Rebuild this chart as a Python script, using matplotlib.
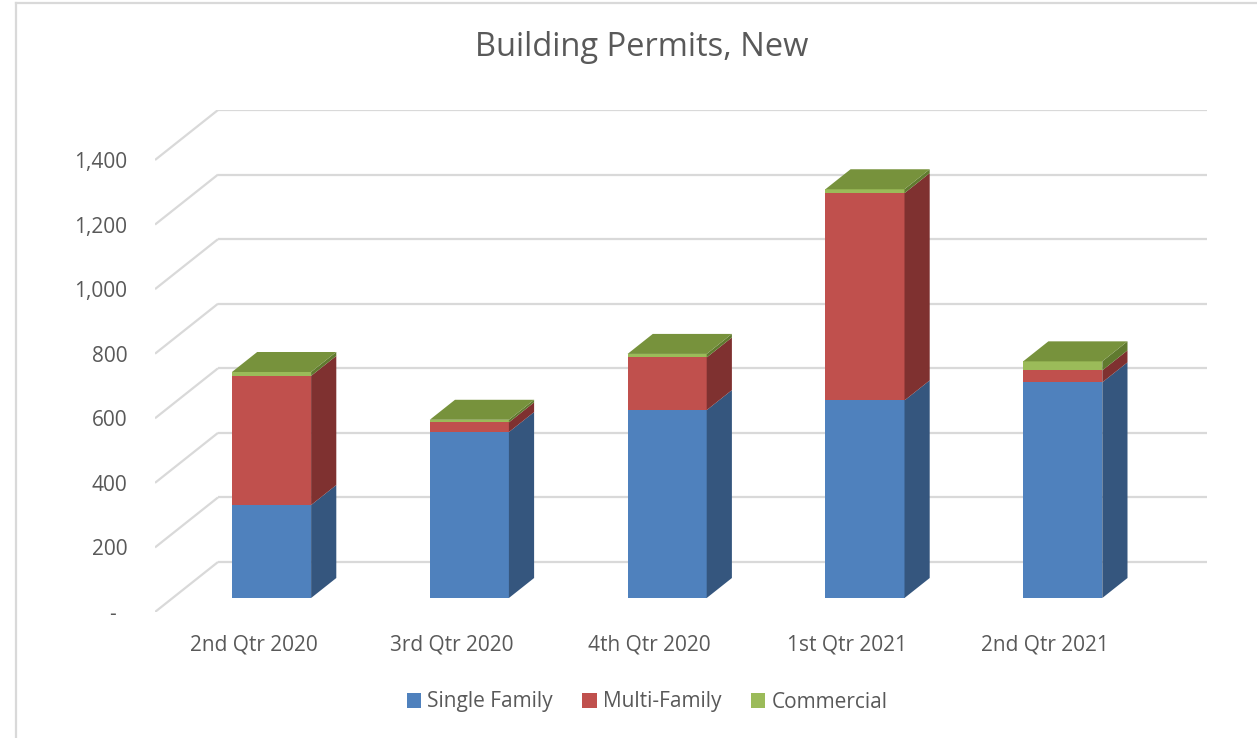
import matplotlib
matplotlib.use("Agg")
import matplotlib.pyplot as plt
from matplotlib.patches import Polygon
from matplotlib.lines import Line2D
import numpy as np

# ---- data ----
categories = ["2nd Qtr 2020", "3rd Qtr 2020", "4th Qtr 2020", "1st Qtr 2021", "2nd Qtr 2021"]
single_family = [288, 514, 582, 612, 668]
multi_family = [400, 30, 163, 642, 37]
commercial = [12, 8, 11, 12, 28]
y_ticks = [0, 200, 400, 600, 800, 1000, 1200, 1400]
y_tick_labels = ["-  ", "200", "400", "600", "800", "1,000", "1,200", "1,400"]
series_names = ["Single Family", "Multi-Family", "Commercial"]

# ---- style ----
plt.rcParams['font.family'] = ['Open Sans', 'DejaVu Sans']
TXT = "#595959"
GRID = "#d9d9d9"
front_cols = ["#4f81bd", "#c0504d", "#9bbb59"]
side_cols = ["#35567e", "#7f3130", "#607a2f"]
top_col = "#77923c"

W, H = 1257, 738
fig = plt.figure(figsize=(W / 100, H / 100), dpi=100)

# geometry of the pseudo-3D box (pixels)
FL, FR = 155, 1144      # front plane left / right
FB, FT = 612, 160       # front plane value 0 / value 1400
DXP, DYP = 63, 50       # depth offset of back wall
ymax = y_ticks[-1]
ncat = len(categories)
ppx = (FR - FL) / ncat
ppy = (FB - FT) / ymax
DX = DXP / ppx
DY = DYP / ppy

ax = fig.add_axes([FL / W, (H - FB) / H, (FR + DXP - FL) / W, (FB - (FT - DYP)) / H])
ax.set_xlim(-0.5, ncat - 0.5 + DX)
ax.set_ylim(0, ymax + DY)
for s in ax.spines.values():
    s.set_visible(False)
ax.set_facecolor("none")

# gridlines: back wall + side wall
for v in y_ticks:
    ax.plot([-0.5 + DX, ncat - 0.5 + DX], [v + DY, v + DY], color=GRID, lw=1.6, zorder=1,
            solid_capstyle='butt')
    ax.plot([-0.5, -0.5 + DX], [v, v + DY], color=GRID, lw=1.6, zorder=1,
            solid_capstyle='butt')

# bars
f0, f1 = 0.28, 0.68
bx0, by0 = f0 * DX, f0 * DY
ddx, ddy = (f1 - f0) * DX, (f1 - f0) * DY
bw = 0.40
x = np.arange(ncat)
series = [single_family, multi_family, commercial]
bottoms = np.zeros(ncat) + by0
handles = []
for k, vals in enumerate(series):
    vals = np.array(vals, dtype=float)
    h = ax.bar(x + bx0, vals, width=bw, bottom=bottoms, color=front_cols[k],
               label=series_names[k], zorder=3, linewidth=0)
    handles.append(h)
    for i in range(ncat):
        xr = x[i] + bx0 + bw / 2
        b, t = bottoms[i], bottoms[i] + vals[i]
        ax.add_patch(Polygon([(xr, b), (xr, t), (xr + ddx, t + ddy), (xr + ddx, b + ddy)],
                             closed=True, facecolor=side_cols[k], edgecolor='none', zorder=3))
    bottoms = bottoms + vals

for i in range(ncat):
    xl = x[i] + bx0 - bw / 2
    xr = x[i] + bx0 + bw / 2
    t = bottoms[i]
    ax.add_patch(Polygon([(xl, t), (xr, t), (xr + ddx, t + ddy), (xl + ddx, t + ddy)],
                         closed=True, facecolor=top_col, edgecolor='none', zorder=4))

ax.set_yticks(y_ticks, y_tick_labels)
ax.set_xticks(x, categories)
ax.tick_params(axis='y', length=0, pad=20, labelsize=15, labelcolor=TXT)
ax.tick_params(axis='x', length=0, pad=16, labelsize=15, labelcolor=TXT)

fig.text(642 / W, 1 - 48 / H, "Building Permits, New", ha='center', va='center',
         fontsize=23.5, color=TXT)

leg = fig.legend(handles=handles, labels=series_names, loc='center',
                 bbox_to_anchor=(647 / W, 1 - 702 / H), ncol=3, frameon=False,
                 fontsize=15, handlelength=0.7, handleheight=0.7, handletextpad=0.3,
                 columnspacing=1.4, labelcolor=TXT)

# chart border (top and left visible)
fig.add_artist(Line2D([16 / W, 16 / W], [0, 1 - 3 / H], color=GRID, lw=1.6))
fig.add_artist(Line2D([16 / W, 1], [1 - 3 / H, 1 - 3 / H], color=GRID, lw=1.6))

fig.savefig("out.png", dpi=100)
